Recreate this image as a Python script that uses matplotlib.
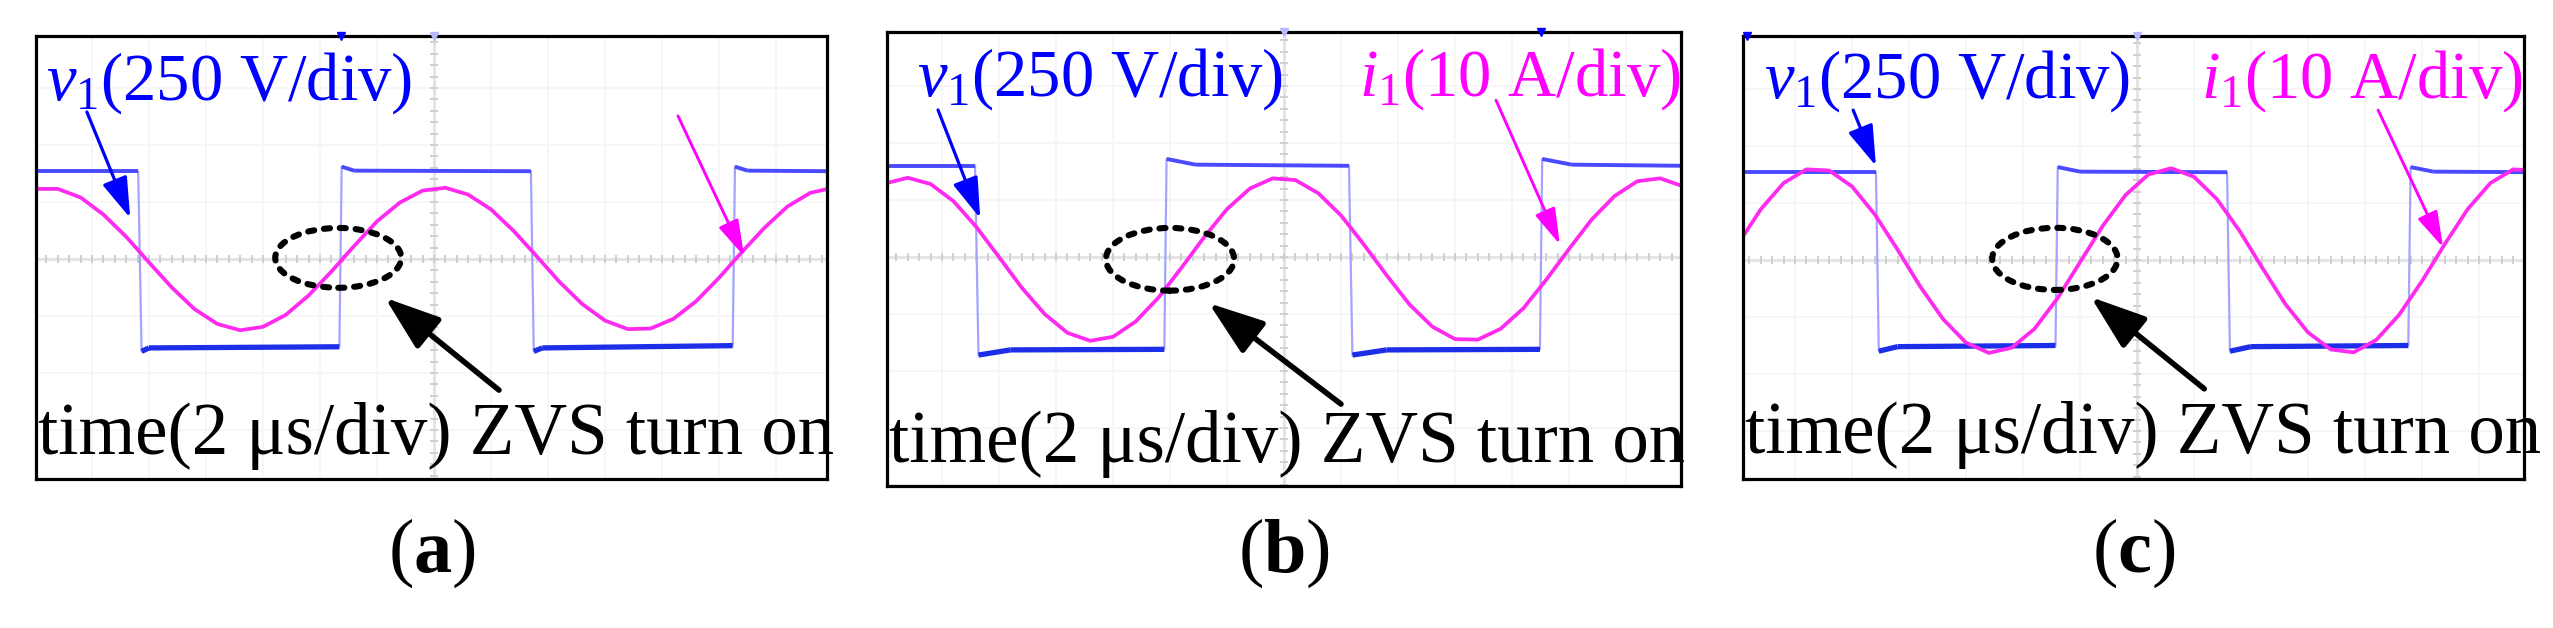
import matplotlib
matplotlib.use("Agg")
import matplotlib.pyplot as plt
from matplotlib.patches import Ellipse, ArrowStyle
import numpy as np

# ---------------- data (in oscilloscope divisions, centre of screen = 0,0) ----------------
t_samples = [-7.0, -6.6, -6.2, -5.8, -5.4, -5.0, -4.6, -4.2, -3.8, -3.4, -3.0, -2.6,
             -2.2, -1.8, -1.4, -1.0, -0.6, -0.2, 0.2, 0.6, 1.0, 1.4, 1.8, 2.2,
             2.6, 3.0, 3.4, 3.8, 4.2, 4.6, 5.0, 5.4, 5.8, 6.2, 6.6, 7.0]

i1_a = [1.23, 1.23, 1.08, 0.78, 0.39, -0.06, -0.50, -0.88, -1.14, -1.25, -1.19, -0.98,
        -0.64, -0.22, 0.23, 0.66, 0.99, 1.20, 1.25, 1.13, 0.87, 0.49, 0.05, -0.40,
        -0.79, -1.08, -1.23, -1.22, -1.05, -0.74, -0.33, 0.12, 0.55, 0.92, 1.16, 1.25]
i1_b = [1.29, 1.39, 1.28, 0.98, 0.53, 0.00, -0.54, -1.00, -1.33, -1.47, -1.40, -1.13,
        -0.71, -0.19, 0.35, 0.84, 1.20, 1.38, 1.35, 1.12, 0.73, 0.22, -0.32, -0.83,
        -1.22, -1.44, -1.45, -1.26, -0.90, -0.40, 0.14, 0.66, 1.07, 1.33, 1.38, 1.24]
i1_c = [0.28, 0.89, 1.35, 1.59, 1.57, 1.29, 0.80, 0.18, -0.47, -1.04, -1.45, -1.63,
        -1.54, -1.21, -0.68, -0.04, 0.60, 1.14, 1.50, 1.61, 1.46, 1.07, 0.51, -0.14,
        -0.77, -1.27, -1.57, -1.62, -1.40, -0.96, -0.37, 0.28, 0.89, 1.35, 1.59, 1.57]

v1_a_t = [-7.0, -5.19, -5.13, -5.0, -1.66, -1.62, -1.40, 1.70, 1.75, 1.90, 5.24, 5.28, 5.50, 7.0]
v1_a_v = [1.54, 1.54, -1.62, -1.56, -1.54, 1.62, 1.55, 1.54, -1.62, -1.56, -1.52, 1.62, 1.55, 1.54]
v1_b_t = [-7.0, -5.42, -5.36, -4.8, -2.10, -2.06, -1.55, 1.14, 1.20, 1.8, 4.49, 4.53, 5.05, 7.0]
v1_b_v = [1.60, 1.60, -1.72, -1.63, -1.62, 1.72, 1.62, 1.60, -1.72, -1.63, -1.62, 1.72, 1.62, 1.60]
v1_c_t = [-7.0, -4.58, -4.53, -4.2, -1.43, -1.39, -1.0, 1.58, 1.63, 2.0, 4.76, 4.80, 5.2, 7.0]
v1_c_v = [1.54, 1.54, -1.60, -1.52, -1.50, 1.63, 1.55, 1.54, -1.60, -1.52, -1.50, 1.63, 1.55, 1.54]

trig_a = [-1.63]
trig_b = [4.51]
trig_c = [-6.85]

v_label = r"$v_1$(250 V/div)"
i_label = r"$i_1$(10 A/div)"
time_label = "time(2 \u03bcs/div) ZVS turn on"
captions = ["a", "b", "c"]

# ---------------- style / layout ----------------
plt.rcParams["font.family"] = ["Liberation Serif", "DejaVu Serif"]
plt.rcParams["mathtext.fontset"] = "custom"
plt.rcParams["mathtext.rm"] = "Liberation Serif"
plt.rcParams["mathtext.it"] = "Liberation Serif:italic"
plt.rcParams["mathtext.bf"] = "Liberation Serif:bold"

W, H, DPI = 2553, 628, 100
DIV = 57.0
BLUE = "#0000ff"
MAG = "#ff00ff"
SINE = "#ff2af0"

fig = plt.figure(figsize=(W / DPI, H / DPI), dpi=DPI)

panels = [
    dict(box=(36, 36, 827, 479), ctr=(434, 259), sq_t=v1_a_t, sq_v=v1_a_v, i1=i1_a, trig=trig_a,
         vlab=(229, 100), ilab=None, tlab=(436, 454),
         varrow=((-6.09, 2.58), (-5.33, 0.72)), marrow=((4.28, 2.51), (5.44, 0.05)),
         karrow=((1.14, -2.30), (-0.86, -0.68)), ell=(-1.68, 0.02, 2.21, 1.05), cap=553),
    dict(box=(887, 32, 1681, 486), ctr=(1284, 257), sq_t=v1_b_t, sq_v=v1_b_v, i1=i1_b, trig=trig_b,
         vlab=(1100, 96), ilab=(1520, 96), tlab=(1287, 462),
         varrow=((-6.07, 2.58), (-5.33, 0.68)), marrow=((3.72, 2.75), (4.84, 0.22)),
         karrow=((1.00, -2.58), (-1.32, -0.81)), ell=(-2.0, -0.04, 2.25, 1.10), cap=553),
    dict(box=(1743, 36, 2524, 479), ctr=(2137, 260), sq_t=v1_c_t, sq_v=v1_c_v, i1=i1_c, trig=trig_c,
         vlab=(1947, 98), ilab=(2362, 98), tlab=(2143, 453),
         varrow=((-4.98, 2.63), (-4.58, 1.65)), marrow=((4.23, 2.63), (5.37, 0.22)),
         karrow=((1.18, -2.26), (-0.81, -0.65)), ell=(-1.44, 0.02, 2.2, 1.09), cap=553),
]

TXT = 48

for k, p in enumerate(panels):
    x0, y0, x1, y1 = p["box"]
    cx, cy = p["ctr"]
    ax = fig.add_axes([x0 / W, 1 - y1 / H, (x1 - x0) / W, (y1 - y0) / H])
    xl = ((x0 - cx) / DIV, (x1 - cx) / DIV)
    yl = ((cy - y1) / DIV, (cy - y0) / DIV)
    ax.set_xlim(*xl)
    ax.set_ylim(*yl)
    ax.set_xticks([])
    ax.set_yticks([])
    for s in ax.spines.values():
        s.set_linewidth(2.3)
        s.set_color("black")
        s.set_zorder(10)

    # graticule
    for g in range(-7, 8):
        ax.axvline(g, color="#f6f6f6", lw=1.3, zorder=0)
    for g in range(-4, 5):
        ax.axhline(g, color="#f6f6f6", lw=1.3, zorder=0)
    ax.axhline(0, color="#e4e4e4", lw=2.2, zorder=0.5)
    ax.axvline(0, color="#e4e4e4", lw=2.2, zorder=0.5)
    tk = np.arange(-7.0, 7.01, 0.2)
    ax.plot(tk, np.zeros_like(tk), ls="none", marker="|", ms=6, mew=1.4, color="#cfcfcf", zorder=0.6)
    tk2 = np.arange(-4.0, 4.01, 0.2)
    ax.plot(np.zeros_like(tk2), tk2, ls="none", marker="_", ms=6, mew=1.4, color="#cfcfcf", zorder=0.6)

    # v1 square wave
    st = np.asarray(p["sq_t"], float)
    sv = np.asarray(p["sq_v"], float)
    ax.plot(st, sv, color="#a4a4ff", lw=1.6, zorder=2)
    for j in range(len(st) - 1):
        if np.sign(sv[j]) == np.sign(sv[j + 1]):
            if sv[j] > 0:
                ax.plot(st[j:j + 2], sv[j:j + 2], color="#4a4aff", lw=2.8, zorder=2.2,
                        solid_capstyle="butt")
            else:
                ax.plot(st[j:j + 2], sv[j:j + 2], color="#1c2ee8", lw=3.8, zorder=2.2,
                        solid_capstyle="butt")

    # i1 sine
    ax.plot(t_samples, p["i1"], color=SINE, lw=2.7, zorder=3, solid_joinstyle="round")

    # trigger markers at top
    ax.plot(p["trig"], [yl[1]] * len(p["trig"]), ls="none", marker="v", ms=6, color=BLUE,
            clip_on=False, zorder=11)
    ax.plot([0], [yl[1]], ls="none", marker="v", ms=6, color="#b8b8ff", clip_on=False, zorder=11)

    # dashed ellipse
    ex, ey, ew, eh = p["ell"]
    ax.add_patch(Ellipse((ex, ey), ew, eh, fill=False, ec="black", lw=4.4,
                         ls=(0, (1.0, 1.6)), capstyle="round", zorder=6))

    # arrows
    (tx, ty), (hx, hy) = p["varrow"]
    ax.annotate("", xy=(hx, hy), xytext=(tx, ty), annotation_clip=False,
                arrowprops=dict(arrowstyle=ArrowStyle("-|>", head_length=25, head_width=8),
                                mutation_scale=1, color=BLUE, lw=2.3, shrinkA=0, shrinkB=0),
                zorder=7)
    (tx, ty), (hx, hy) = p["marrow"]
    ax.annotate("", xy=(hx, hy), xytext=(tx, ty), annotation_clip=False,
                arrowprops=dict(arrowstyle=ArrowStyle("-|>", head_length=22, head_width=6.5),
                                mutation_scale=1, color=MAG, lw=2.1, shrinkA=0, shrinkB=0),
                zorder=7)
    (tx, ty), (hx, hy) = p["karrow"]
    ax.annotate("", xy=(hx, hy), xytext=(tx, ty), annotation_clip=False,
                arrowprops=dict(arrowstyle=ArrowStyle("-|>", head_length=34, head_width=12),
                                mutation_scale=1, color="black", lw=4.0, shrinkA=0, shrinkB=0),
                zorder=7)

    # labels
    vx, vy = p["vlab"]
    fig.text(vx / W, 1 - vy / H, v_label, ha="center", va="baseline", fontsize=TXT, color=BLUE)
    if p["ilab"] is not None:
        ix, iy = p["ilab"]
        fig.text(ix / W, 1 - iy / H, i_label, ha="center", va="baseline", fontsize=TXT, color=MAG)
    tx_, ty_ = p["tlab"]
    fig.text(tx_ / W, 1 - ty_ / H, time_label, ha="center", va="baseline", fontsize=52.5,
             color="black")
    fig.text(((x0 + x1) / 2) / W, 1 - p["cap"] / H, r"($\mathbf{%s}$)" % captions[k],
             ha="center", va="center", fontsize=55, color="black")

fig.savefig("out.png", dpi=DPI)
